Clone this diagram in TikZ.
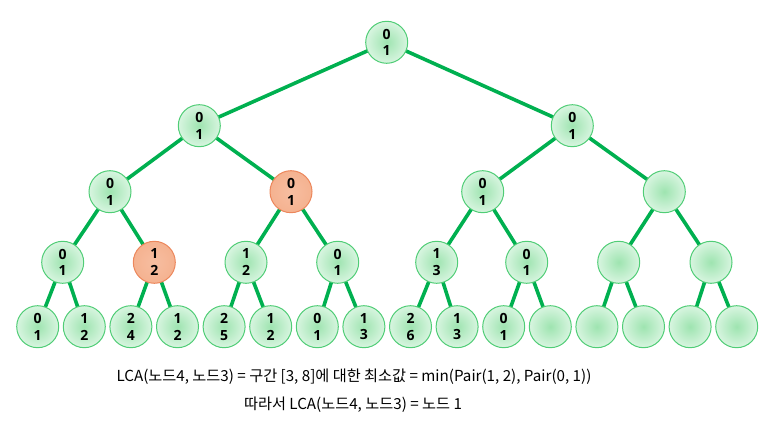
\documentclass[tikz,border=0pt]{standalone}
\usepackage{fontspec}
\setmainfont{Open Sans}
\newfontfamily\krfont{Noto Sans CJK KR}
\usetikzlibrary{backgrounds}
\definecolor{edgegreen}{RGB}{0,176,80}
\definecolor{rimgreen}{RGB}{80,205,118}
\definecolor{coregreen}{RGB}{158,228,176}
\definecolor{palegreen}{RGB}{216,245,224}
\definecolor{hiorange}{RGB}{245,178,144}
\definecolor{hirim}{RGB}{236,135,92}
\tikzset{
  seg/.style={circle, minimum size=42pt, inner sep=0pt, draw=rimgreen, line width=1pt,
    inner color=coregreen, outer color=palegreen,
    font=\fontsize{14}{16.7}\selectfont\bfseries, align=center},
  hit/.style={seg, draw=hirim, inner color=hiorange!85, outer color=hiorange},
  link/.style={draw=edgegreen, line width=3.6pt},
  caption/.style={font=\krfont\fontsize{15.2}{17}\selectfont, anchor=center}
}
\begin{document}
\begin{tikzpicture}[x=1pt, y=-1pt]
\useasboundingbox (0,0) rectangle (773,435);
% root
\node[seg] (n1) at (386.7,42.3) {0\\1};
% level 1
\node[seg] (n2) at (199.3,125.7) {0\\1};
\node[seg] (n3) at (572.3,125.7) {0\\1};
% level 2
\node[seg] (n4) at (110,191.7) {0\\1};
\node[hit] (n5) at (291,191.7) {0\\1};
\node[seg] (n6) at (482.7,191.7) {0\\1};
\node[seg] (n7) at (664.3,191.7) {};
% level 3
\node[seg] (n8)  at (62.7,262.3)  {0\\1};
\node[hit] (n9)  at (154.3,262.3) {1\\2};
\node[seg] (n10) at (246,262.3)   {1\\2};
\node[seg] (n11) at (337.7,262.3) {0\\1};
\node[seg] (n12) at (436.7,262.3) {1\\3};
\node[seg] (n13) at (526.7,262.3) {0\\1};
\node[seg] (n14) at (618.7,262.3) {};
\node[seg] (n15) at (711,262.3)   {};
% leaves
\foreach \i/\txt in {16/{0\\1},17/{1\\2},18/{2\\4},19/{1\\2},20/{2\\5},21/{1\\2},
                     22/{0\\1},23/{1\\3},24/{2\\6},25/{1\\3},26/{0\\1},27/{},
                     28/{},29/{},30/{},31/{}}{
  \node[seg] (n\i) at ({37.7+46.6*(\i-16)},326.7) {\txt};
}
% tree edges behind the nodes
\begin{pgfonlayer}{background}
  \foreach \p in {1,...,15}{
    \pgfmathtruncatemacro{\l}{2*\p}
    \pgfmathtruncatemacro{\r}{2*\p+1}
    \draw[link] (n\p.center) -- (n\l.center);
    \draw[link] (n\p.center) -- (n\r.center);
  }
\end{pgfonlayer}
% explanation
\node[caption] (t1) at (354,376.7) {LCA(노드4, 노드3) = 구간 [3, 8]에 대한 최소값 = min(Pair(1, 2), Pair(0, 1))};
\node[caption] (t2) at (353,405) {따라서 LCA(노드4, 노드3) = 노드 1};
\end{tikzpicture}
\end{document}
